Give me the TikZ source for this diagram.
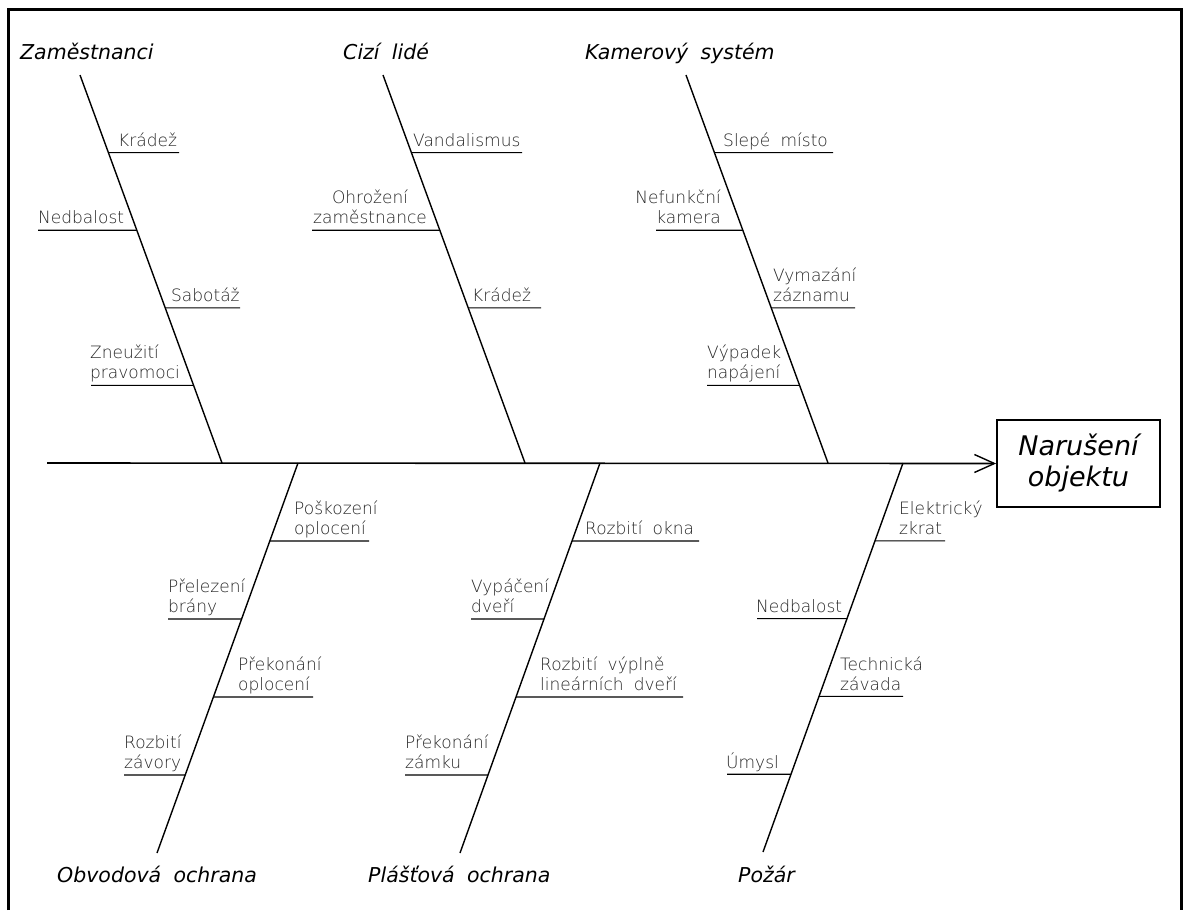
\documentclass[tikz,border=0pt]{standalone}
\usepackage{fontspec}
\usetikzlibrary{calc,arrows.meta}
\IfFontExistsTF{DejaVu Sans ExtraLight}
  {\newfontfamily\lblfont{DejaVu Sans ExtraLight}}
  {\IfFontExistsTF{DejaVuSans-ExtraLight.ttf}
     {\newfontfamily\lblfont{DejaVuSans-ExtraLight.ttf}}
     {\newfontfamily\lblfont{DejaVu Sans}}}
\newfontfamily\catfont{DejaVu Sans}
\newcommand\wsp{\hspace{0.6em}}
\newcommand\twol[3][l]{\begin{tabular}[b]{@{}#1@{}}#2\\#3\end{tabular}}
\tikzset{
  lbl/.style={inner sep=0pt, anchor=base west, text=black!85,
    font=\lblfont\fontsize{17}{20}\selectfont},
  cat/.style={inner sep=0pt, anchor=base west,
    font=\catfont\itshape\fontsize{20.5}{24}\selectfont},
  bone/.style={line width=1.4pt},
  twig/.style={line width=1.1pt},
}
\begin{document}
\begin{tikzpicture}[x=1pt,y=-1pt]
\useasboundingbox (0,0) rectangle (1183,910);
% frame
\draw[line width=3pt] (8,910) -- (8,9) -- (1181,9) -- (1181,910);

% effect box and spine
\node[draw, line width=1.8pt, minimum width=163pt, minimum height=87pt,
      inner sep=0pt, align=center,
      font=\catfont\itshape\fontsize{27}{31}\selectfont] (eff) at (1078.5,463.5)
      {Narušení\\objektu};
\coordinate (S0) at (47,463);
\draw[line width=1.6pt, -{Straight Barb[length=20pt,width=18pt,line width=1.4pt]}] (S0) -- (eff.west);

% bone end points
\coordinate (Zt) at (80,75);   \coordinate (Zb) at (222,463);
\coordinate (Ct) at (383,75);  \coordinate (Cb) at (525,463);
\coordinate (Kt) at (686,75);  \coordinate (Kb) at (828,463);
\coordinate (Ot) at (298,463); \coordinate (Ob) at (157,853);
\coordinate (Pt) at (600,463); \coordinate (Pb) at (460,853);
\coordinate (Rt) at (903,463); \coordinate (Rb) at (763,852);

\draw[bone] (Zt) -- (Zb);
\draw[bone] (Ct) -- (Cb);
\draw[bone] (Kt) -- (Kb);
\draw[bone] (Ot) -- (Ob);
\draw[bone] (Pt) -- (Pb);
\draw[bone] (Rt) -- (Rb);

% category labels
\node[cat] (cZ) at (20,59) {Zaměstnanci};
\node[cat] (cC) at (343,59) {Cizí\wsp lidé};
\node[cat] (cK) at (585,59) {Kamerový\wsp systém};
\node[cat] (cO) at (57,882) {Obvodová\wsp ochrana};
\node[cat] (cP) at (368,882) {Plášťová\wsp ochrana};
\node[cat] (cR) at (738,882) {Požár};

% ---- Zaměstnanci
\coordinate (z1) at ($(Zt)!0.2!(Zb)$); \coordinate (z1e) at (179,152.6);
\coordinate (z2) at ($(Zt)!0.4!(Zb)$); \coordinate (z2e) at (38,230.2);
\coordinate (z3) at ($(Zt)!0.6!(Zb)$); \coordinate (z3e) at (240,307.8);
\coordinate (z4) at ($(Zt)!0.8!(Zb)$); \coordinate (z4e) at (91,385.4);
\draw[twig] (z1) -- (z1e);
\draw[twig] (z2) -- (z2e);
\draw[twig] (z3) -- (z3e);
\draw[twig] (z4) -- (z4e);
\node[lbl] (lz1) at (118,146) {Krádež};
\node[lbl] (lz2) at (38,223) {Nedbalost};
\node[lbl] (lz3) at (171,301) {Sabotáž};
\node[lbl] (lz4) at (90,378) {\twol{Zneužití}{pravomoci}};

% ---- Cizí lidé
\coordinate (c1) at ($(Ct)!0.2!(Cb)$); \coordinate (c1e) at (522,152.6);
\coordinate (c2) at ($(Ct)!0.4!(Cb)$); \coordinate (c2e) at (312,230.2);
\coordinate (c3) at ($(Ct)!0.6!(Cb)$); \coordinate (c3e) at (541,307.8);
\draw[twig] (c1) -- (c1e);
\draw[twig] (c2) -- (c2e);
\draw[twig] (c3) -- (c3e);
\node[lbl] (lc1) at (413,146) {Vandalismus};
\node[lbl] (lc2) at (313,223) {\twol[c]{Ohrožení}{zaměstnance}};
\node[lbl] (lc3) at (472,301) {Krádež};

% ---- Kamerový systém
\coordinate (k1) at ($(Kt)!0.2!(Kb)$); \coordinate (k1e) at (833,152.6);
\coordinate (k2) at ($(Kt)!0.4!(Kb)$); \coordinate (k2e) at (656,230.2);
\coordinate (k3) at ($(Kt)!0.6!(Kb)$); \coordinate (k3e) at (855,307.8);
\coordinate (k4) at ($(Kt)!0.8!(Kb)$); \coordinate (k4e) at (707,385.4);
\draw[twig] (k1) -- (k1e);
\draw[twig] (k2) -- (k2e);
\draw[twig] (k3) -- (k3e);
\draw[twig] (k4) -- (k4e);
\node[lbl] (lk1) at (723,146) {Slepé\wsp místo};
\node[lbl, anchor=base east] (lk2) at (721,223) {\twol[r]{Nefunkční}{kamera}};
\node[lbl] (lk3) at (773,301) {\twol{Vymazání}{záznamu}};
\node[lbl] (lk4) at (707,378) {\twol{Výpadek}{napájení}};

% ---- Obvodová ochrana
\coordinate (o1) at ($(Ot)!0.2!(Ob)$); \coordinate (o1e) at (369,541);
\coordinate (o2) at ($(Ot)!0.4!(Ob)$); \coordinate (o2e) at (168,619);
\coordinate (o3) at ($(Ot)!0.6!(Ob)$); \coordinate (o3e) at (313,697);
\coordinate (o4) at ($(Ot)!0.8!(Ob)$); \coordinate (o4e) at (124,775);
\draw[twig] (o1) -- (o1e);
\draw[twig] (o2) -- (o2e);
\draw[twig] (o3) -- (o3e);
\draw[twig] (o4) -- (o4e);
\node[lbl] (lo1) at (294,534) {\twol{Poškození}{oplocení}};
\node[lbl] (lo2) at (168,612) {\twol{Přelezení}{brány}};
\node[lbl] (lo3) at (238,690) {\twol{Překonání}{oplocení}};
\node[lbl] (lo4) at (124,768) {\twol{Rozbití}{závory}};

% ---- Plášťová ochrana
\coordinate (p1) at ($(Pt)!0.2!(Pb)$); \coordinate (p1e) at (699,541);
\coordinate (p2) at ($(Pt)!0.4!(Pb)$); \coordinate (p2e) at (471,619);
\coordinate (p3) at ($(Pt)!0.6!(Pb)$); \coordinate (p3e) at (683,697);
\coordinate (p4) at ($(Pt)!0.8!(Pb)$); \coordinate (p4e) at (405,775);
\draw[twig] (p1) -- (p1e);
\draw[twig] (p2) -- (p2e);
\draw[twig] (p3) -- (p3e);
\draw[twig] (p4) -- (p4e);
\node[lbl] (lp1) at (585,534) {Rozbití\wsp okna};
\node[lbl] (lp2) at (471,612) {\twol{Vypáčení}{dveří}};
\node[lbl] (lp3) at (540,690) {\twol{Rozbití\wsp výplně}{lineárních\wsp dveří}};
\node[lbl] (lp4) at (405,768) {\twol{Překonání}{zámku}};

% ---- Požár
\coordinate (r1) at ($(Rt)!0.2!(Rb)$); \coordinate (r1e) at (945,540.8);
\coordinate (r2) at ($(Rt)!0.4!(Rb)$); \coordinate (r2e) at (757,618.6);
\coordinate (r3) at ($(Rt)!0.6!(Rb)$); \coordinate (r3e) at (903,696.4);
\coordinate (r4) at ($(Rt)!0.8!(Rb)$); \coordinate (r4e) at (727,774.2);
\draw[twig] (r1) -- (r1e);
\draw[twig] (r2) -- (r2e);
\draw[twig] (r3) -- (r3e);
\draw[twig] (r4) -- (r4e);
\node[lbl] (lr1) at (899,534) {\twol{Elektrický}{zkrat}};
\node[lbl] (lr2) at (756,612) {Nedbalost};
\node[lbl] (lr3) at (840,690) {\twol{Technická}{závada}};
\node[lbl] (lr4) at (726,768) {Úmysl};
\end{tikzpicture}
\end{document}
